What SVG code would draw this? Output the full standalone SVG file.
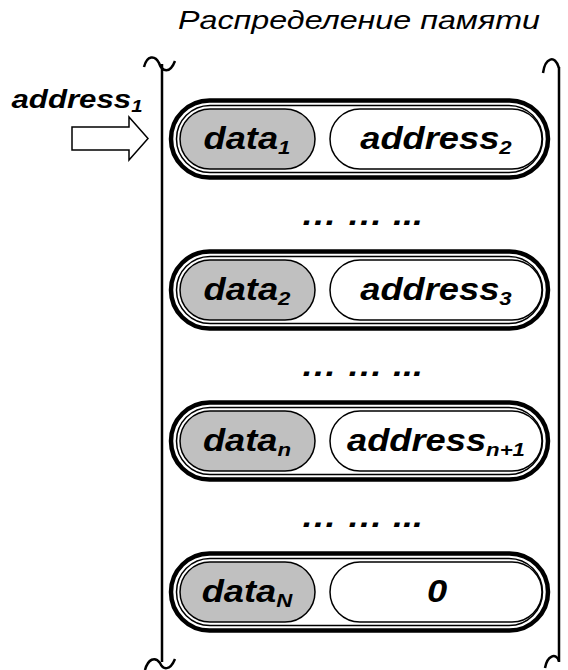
<svg xmlns="http://www.w3.org/2000/svg" width="568" height="670" viewBox="0 0 568 670">
<style>
.outer{fill:#fff;stroke:#000;stroke-width:4.5}
.thin{fill:none;stroke:#000;stroke-width:1.5}
.grey{fill:#c0c0c0;stroke:#000;stroke-width:1.5}
.white{fill:#fff;stroke:#000;stroke-width:1.5}
.lbl{font-family:"Liberation Sans",Arial,sans-serif;font-weight:bold;font-style:italic;font-size:31px;fill:#000;text-anchor:middle}
.sub{font-size:19px}
.title{font-family:"Liberation Sans",Arial,sans-serif;font-style:italic;font-size:25px;fill:#000;text-anchor:middle}
.brk{fill:none;stroke:#000;stroke-width:2.5}
.dots{font-family:"Liberation Sans",Arial,sans-serif;font-weight:bold;font-style:italic;font-size:30px;fill:#000;text-anchor:middle}
</style>
<rect width="568" height="670" fill="#fff"/>
<text class="title" transform="translate(359,29) scale(1.29,1)">Распределение памяти</text>
<g id="memory-bounds">
<path class="brk" d="M162,64 V662"/>
<path class="brk" d="M144,67 C147,55 155,55 159,63 C162,72 170,74 175,61"/>
<path class="brk" d="M145,670 C148,659 155,656 160,663 C163,670 170,671 175,659"/>
<path class="brk" d="M559,67 V662"/>
<path class="brk" d="M543,73 C545,58 555,54 559,68"/>
<path class="brk" d="M545,668 C547,656 556,652 559,661"/>
</g>
<g id="cell1">
<rect class="outer" x="171" y="100.5" width="377" height="77" rx="38.5"/>
<rect class="thin" x="176.5" y="105.5" width="366" height="67" rx="33.5"/>
<rect class="grey" x="180" y="109" width="135" height="60" rx="30"/>
<rect class="white" x="330" y="109" width="212" height="60" rx="30"/>
<text class="lbl" transform="translate(247,149) scale(1.17,1)">data<tspan class="sub" dy="5">1</tspan></text>
<text class="lbl" transform="translate(436,149) scale(1.17,1)">address<tspan class="sub" dy="5">2</tspan></text>
</g>
<text class="dots" transform="translate(362,225) scale(1.2,1)">… … ...</text>
<g id="cell2">
<rect class="outer" x="171" y="251.5" width="377" height="77" rx="38.5"/>
<rect class="thin" x="176.5" y="256.5" width="366" height="67" rx="33.5"/>
<rect class="grey" x="180" y="260" width="135" height="60" rx="30"/>
<rect class="white" x="330" y="260" width="212" height="60" rx="30"/>
<text class="lbl" transform="translate(247,300) scale(1.17,1)">data<tspan class="sub" dy="5">2</tspan></text>
<text class="lbl" transform="translate(436,300) scale(1.17,1)">address<tspan class="sub" dy="5">3</tspan></text>
</g>
<text class="dots" transform="translate(362,376) scale(1.2,1)">… … ...</text>
<g id="celln">
<rect class="outer" x="171" y="402.5" width="377" height="77" rx="38.5"/>
<rect class="thin" x="176.5" y="407.5" width="366" height="67" rx="33.5"/>
<rect class="grey" x="180" y="411" width="135" height="60" rx="30"/>
<rect class="white" x="330" y="411" width="212" height="60" rx="30"/>
<text class="lbl" transform="translate(247,451) scale(1.17,1)">data<tspan class="sub" dy="5">n</tspan></text>
<text class="lbl" transform="translate(436,451) scale(1.17,1)">address<tspan class="sub" dy="5">n+1</tspan></text>
</g>
<text class="dots" transform="translate(362,527) scale(1.2,1)">… … ...</text>
<g id="cellN">
<rect class="outer" x="171" y="553.5" width="377" height="77" rx="38.5"/>
<rect class="thin" x="176.5" y="558.5" width="366" height="67" rx="33.5"/>
<rect class="grey" x="180" y="562" width="135" height="60" rx="30"/>
<rect class="white" x="330" y="562" width="212" height="60" rx="30"/>
<text class="lbl" transform="translate(247,602) scale(1.17,1)">data<tspan class="sub" dy="5">N</tspan></text>
<text class="lbl" transform="translate(437,602) scale(1.17,1)">0</text>
</g>
<g id="entry-label">
<text class="lbl" style="font-size:26px" transform="translate(77,108) scale(1.2,1)">address<tspan style="font-size:17px" dy="4">1</tspan></text>
</g>
<g id="connectors">
<polygon points="72,127 129,127 129,117 148,138.5 129,160 129,150 72,150" fill="#fff" stroke="#000" stroke-width="1.5"/>
</g>
</svg>
